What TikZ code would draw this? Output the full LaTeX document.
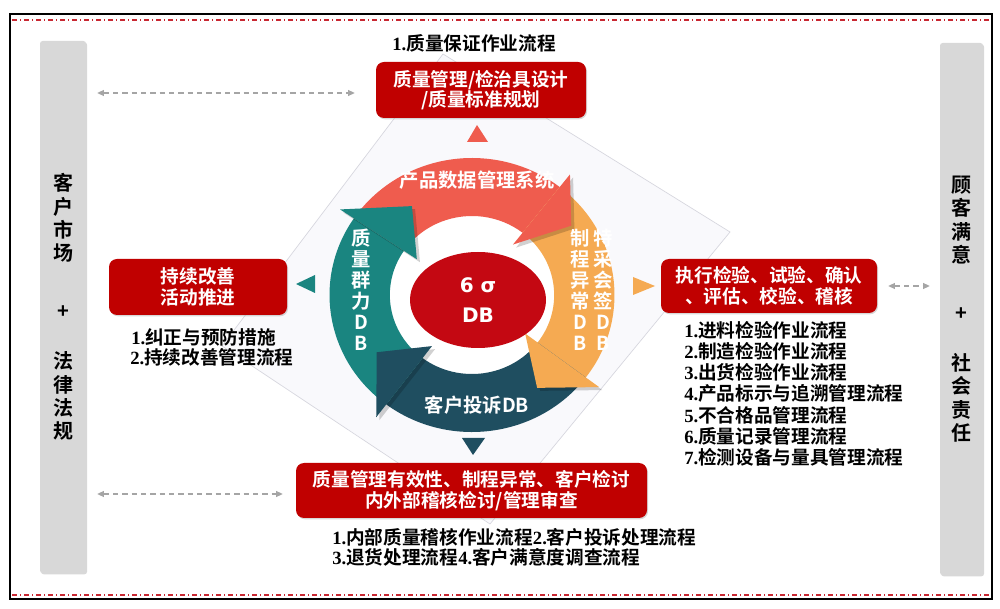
\documentclass[tikz,border=0pt]{standalone}
\usepackage{fontspec}
\setmainfont{Noto Sans CJK SC}[BoldFont={* Bold}]
\newfontfamily\dvs{DejaVu Sans}
\newfontfamily\lserif{Liberation Serif}
\usetikzlibrary{arrows.meta,shadows,shapes.geometric}
\definecolor{boxred}{RGB}{192,0,0}
\definecolor{barg}{RGB}{216,216,216}
\definecolor{cred}{RGB}{239,92,78}
\definecolor{corange}{RGB}{245,170,82}
\definecolor{cdark}{RGB}{31,78,96}
\definecolor{cteal}{RGB}{26,133,128}
\definecolor{coreRed}{RGB}{196,8,18}
\definecolor{diamfill}{RGB}{249,249,252}
\definecolor{diamline}{RGB}{214,214,222}
\definecolor{dashred}{RGB}{200,40,50}
\definecolor{arrgray}{RGB}{165,165,165}
\newcommand\numf[1]{{\lserif\bfseries #1}}
\begin{document}
\begin{tikzpicture}[x=0.75pt,y=0.75pt,
  redbox/.style={fill=boxred, rounded corners=6pt, text=white, font=\bfseries\fontsize{14}{15.5}\selectfont, align=center, inner sep=0pt, drop shadow={opacity=0.3,shadow xshift=0.8pt,shadow yshift=-1pt}},
  sidebar/.style={fill=barg, rounded corners=2pt, inner sep=0pt, align=center, font=\bfseries\fontsize{15}{17.6}\selectfont, drop shadow={opacity=0.3,shadow xshift=0.8pt,shadow yshift=-1pt}},
  listtxt/.style={anchor=west, inner sep=0pt, font=\bfseries\fontsize{14}{16}\selectfont},
  ringtxt/.style={text=white, inner sep=0pt, font=\bfseries\fontsize{14.5}{16}\selectfont},
  vcol/.style={text=white, inner sep=0pt, align=center, font=\bfseries\fontsize{14.5}{15.75}\selectfont},
  headshadow/.style={fill=black, opacity=0.18},
  darr/.style={draw=arrgray, line width=0.8pt, dash pattern=on 4pt off 3pt, arrows={Triangle[length=5pt,width=4.5pt]-Triangle[length=5pt,width=4.5pt]}},
  dashdotred/.style={draw=dashred, line width=0.8pt, dash pattern=on 4pt off 2pt on 1pt off 2pt}
]
\useasboundingbox (0,0) rectangle (1000,-609);
\fill[white] (0,0) rectangle (1000,-609);

% frame
\draw[black, line width=1.1pt] (10,-14) rectangle (992,-599);
\draw[dashdotred] (12,-20) -- (990,-20);
\draw[dashdotred] (12,-595) -- (990,-595);

% background diamond
\filldraw[fill=diamfill, draw=diamline, line width=0.5pt] (443,-54) -- (730,-232) -- (490,-524) -- (222,-346) -- cycle;

% ring
\begin{scope}[shift={(472,-295)},xscale=1.04]
  \fill[white] (0,0) circle[radius=80];
  \fill[cred] (146:137) arc[start angle=146,end angle=52,radius=137] -- (52:79) arc[start angle=52,end angle=146,radius=79] -- cycle;
  \fill[corange] (52:137) arc[start angle=52,end angle=-37,radius=137] -- (-37:79) arc[start angle=-37,end angle=52,radius=79] -- cycle;
  \fill[cdark] (-37:137) arc[start angle=-37,end angle=-127,radius=137] -- (-127:79) arc[start angle=-127,end angle=-37,radius=79] -- cycle;
  \fill[cteal] (233:137) arc[start angle=233,end angle=146,radius=137] -- (146:79) arc[start angle=146,end angle=233,radius=79] -- cycle;
  % head shadows
  \begin{scope}[shift={(3,-3)}]
    \fill[headshadow] (52:64) -- (52:153) -- (36:118) -- cycle;
    \fill[headshadow] (-37:64) -- (-37:153) -- (-56:112) -- cycle;
    \fill[headshadow] (-127:64) -- (-127:153) -- (-148:108) -- cycle;
    \fill[headshadow] (146:64) -- (146:153) -- (123:106) -- cycle;
  \end{scope}
  \fill[cred] (52:64) -- (52:153) -- (36:118) -- cycle;
  \fill[corange] (-37:64) -- (-37:153) -- (-56:112) -- cycle;
  \fill[cdark] (-127:64) -- (-127:153) -- (-148:108) -- cycle;
  \fill[cteal] (146:64) -- (146:153) -- (123:106) -- cycle;
\end{scope}

% small pointer triangles
\fill[cred] (467,-142) -- (488,-142) -- (477,-125) -- cycle;
\fill[cteal] (315,-275) -- (315,-293) -- (296,-284) -- cycle;
\fill[corange] (633,-277) -- (633,-295) -- (655,-286) -- cycle;
\fill[cdark] (462,-438) -- (485,-438) -- (473,-455) -- cycle;

% ring labels
\node[ringtxt] (t1) at (477,-180) {产品数据管理系统};
\node[vcol] (t2) at (580,-290) {制\\程\\异\\常\\D\\B};
\node[vcol] (t3) at (603,-290) {特\\采\\会\\签\\D\\B};
\node[vcol] (t4) at (361,-290) {质\\量\\群\\力\\D\\B};
\node[ringtxt] (t5) at (477,-405) {客户投诉DB};

% core
\node[ellipse, fill=coreRed, minimum width=102pt, minimum height=72pt, inner sep=0pt, text=white, align=center, font=\dvs\bfseries\fontsize{15}{23}\selectfont] (core) at (478,-300) {6 σ\\DB};

% side bars
\node[sidebar, minimum width=34.5pt, minimum height=399pt] (lbar) at (63,-307) {客\\户\\市\\场\\[25.5pt]+\\[20pt]法\\律\\法\\规};
\node[sidebar, minimum width=32.25pt, minimum height=399pt] (rbar) at (961.5,-309) {顾\\客\\满\\意\\[25.5pt]+\\[20pt]社\\会\\责\\任};

% red boxes
\node[redbox, minimum width=157.5pt, minimum height=42pt] (topbox) at (481,-90) {质量管理/检治具设计\\/质量标准规划};
\node[redbox, minimum width=133.5pt, minimum height=42pt] (lbox) at (198,-287) {持续改善\\活动推进};
\node[redbox, minimum width=162pt, minimum height=40.5pt] (rbox) at (769,-286) {执行检验、试验、确认\\、评估、校验、稽核};
\node[redbox, minimum width=263.25pt, minimum height=41.25pt] (bbox) at (471.5,-490.5) {质量管理有效性、制程异常、客户检讨\\内外部稽核检讨/管理审查};

% texts
\node[listtxt, anchor=center] (title) at (474,-43) {\numf{1.}质量保证作业流程};
\node[listtxt] (l1) at (131,-337) {\numf{1.}纠正与预防措施};
\node[listtxt] (l2) at (130,-357) {\numf{2.}持续改善管理流程};
\foreach \t [count=\i] in {\numf{1.}进料检验作业流程,\numf{2.}制造检验作业流程,\numf{3.}出货检验作业流程,\numf{4.}产品标示与追溯管理流程,\numf{5.}不合格品管理流程,\numf{6.}质量记录管理流程,\numf{7.}检测设备与量具管理流程}
  \node[listtxt] (r\i) at (684,{-330-21.3*(\i-1)}) {\t};
\node[listtxt] (b1) at (332,-537) {\numf{1.}内部质量稽核作业流程\numf{2.}客户投诉处理流程};
\node[listtxt] (b2) at (332,-557) {\numf{3.}退货处理流程\numf{4.}客户满意度调查流程};

% dashed double arrows
\coordinate (ya) at (0,-93);
\coordinate (yb) at (0,-494);
\draw[darr, shorten <=8.25pt, shorten >=15.75pt] (lbar.east |- ya) -- (topbox.west |- ya);
\draw[darr, shorten <=8.25pt, shorten >=9.75pt] (lbar.east |- yb) -- (bbox.west |- yb);
\draw[darr, shorten <=8.25pt, shorten >=7.5pt] (rbox.east) -- (rbar.west |- rbox.east);
\end{tikzpicture}
\end{document}
